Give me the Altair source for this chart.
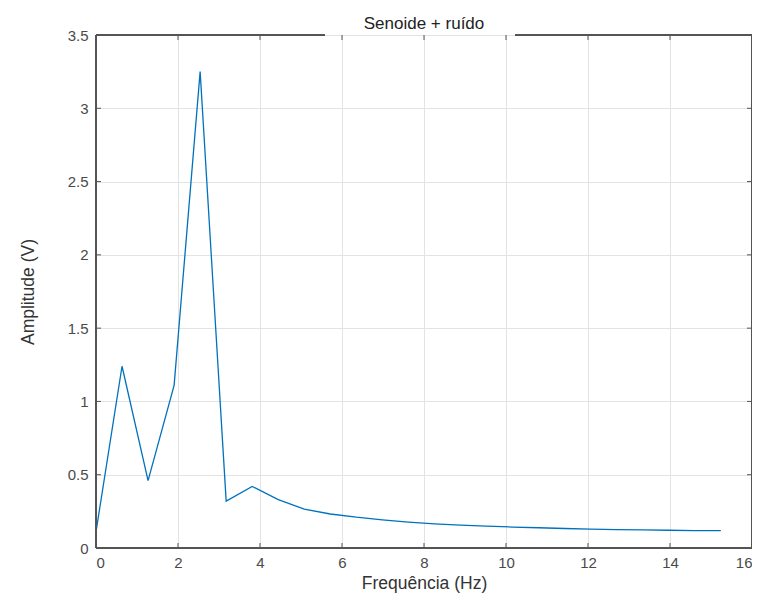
import altair as alt
import pandas as pd

# Data
freq = [0, 0.635, 1.27, 1.905, 2.54, 3.175, 3.81, 4.445, 5.08, 5.715, 6.35,
        6.985, 7.62, 8.255, 8.89, 9.525, 10.16, 10.795, 11.43, 12.065, 12.7,
        13.335, 13.97, 14.605, 15.24]
amp = [0.11, 1.24, 0.46, 1.11, 3.25, 0.32, 0.42, 0.33, 0.265, 0.232, 0.21,
       0.192, 0.177, 0.165, 0.156, 0.149, 0.143, 0.138, 0.133, 0.129, 0.126,
       0.123, 0.121, 0.119, 0.118]
x_ticks = [0, 2, 4, 6, 8, 10, 12, 14, 16]
y_ticks = [0, 0.5, 1, 1.5, 2, 2.5, 3, 3.5]

df = pd.DataFrame({"freq": freq, "amp": amp})
xt = pd.DataFrame({"t": x_ticks})
yt = pd.DataFrame({"t": y_ticks})

W, H = 656, 513
FONT = "Liberation Sans"
AX = "#555555"

xscale = alt.Scale(domain=[0, 16], nice=False, zero=False)
yscale = alt.Scale(domain=[0, 3.5], nice=False, zero=False)

line = alt.Chart(df).mark_line(color="#0072BD", strokeWidth=1.3).encode(
    x=alt.X("freq:Q", scale=xscale,
            axis=alt.Axis(title="Frequência (Hz)", values=x_ticks, format="~g",
                          grid=True, gridColor="#e3e3e3", domain=False, ticks=False,
                          labelPadding=7, titlePadding=4, labelFontSize=15,
                          titleFontSize=17.5, labelColor="#4a4a4a", titleColor="#333",
                          labelFont=FONT, titleFont=FONT, titleFontWeight="normal")),
    y=alt.Y("amp:Q", scale=yscale,
            axis=alt.Axis(title="Amplitude (V)", values=y_ticks, format="~g",
                          grid=True, gridColor="#e3e3e3", domain=False, ticks=False,
                          labelPadding=8, titlePadding=30, labelFontSize=15,
                          titleFontSize=17.5, labelColor="#4a4a4a", titleColor="#333",
                          labelFont=FONT, titleFont=FONT, titleFontWeight="normal")),
)

# Box border (top border interrupted behind the title)
left_b = alt.Chart(df).mark_rule(color=AX, strokeWidth=1).encode(
    x=alt.value(0), y=alt.value(0), y2=alt.value(H))
right_b = alt.Chart(df).mark_rule(color=AX, strokeWidth=1).encode(
    x=alt.value(W), y=alt.value(0), y2=alt.value(H))
bottom_b = alt.Chart(df).mark_rule(color=AX, strokeWidth=1).encode(
    x=alt.value(0), x2=alt.value(W), y=alt.value(H))
top_l = alt.Chart(df).mark_rule(color=AX, strokeWidth=1).encode(
    x=alt.datum(0, scale=xscale), x2=alt.datum(5.57), y=alt.value(0))
top_r = alt.Chart(df).mark_rule(color=AX, strokeWidth=1).encode(
    x=alt.datum(10.23, scale=xscale), x2=alt.datum(16), y=alt.value(0))

# Inward ticks
xt_bot = alt.Chart(xt).mark_rule(color=AX).encode(
    x=alt.X("t:Q", scale=xscale), y=alt.value(H), y2=alt.value(H - 5))
xt_top = alt.Chart(xt).mark_rule(color=AX).encode(
    x=alt.X("t:Q", scale=xscale), y=alt.value(0), y2=alt.value(5))
yt_l = alt.Chart(yt).mark_rule(color=AX).encode(
    y=alt.Y("t:Q", scale=yscale), x=alt.value(0), x2=alt.value(5))
yt_r = alt.Chart(yt).mark_rule(color=AX).encode(
    y=alt.Y("t:Q", scale=yscale), x=alt.value(W - 5), x2=alt.value(W))

chart = alt.layer(
    line, xt_bot, xt_top, yt_l, yt_r, left_b, right_b, bottom_b, top_l, top_r
).properties(
    width=W, height=H,
    title=alt.TitleParams("Senoide + ruído", fontSize=17, font=FONT,
                          fontWeight="normal", color="#222", anchor="middle",
                          offset=-5),
    autosize=alt.AutoSizeParams(type="none"),
    padding={"left": 88, "top": 27, "right": 0, "bottom": 50},
).configure_view(stroke=None).configure(background="white")

chart.save("out.html", embed_options={"renderer": "svg", "actions": False})
